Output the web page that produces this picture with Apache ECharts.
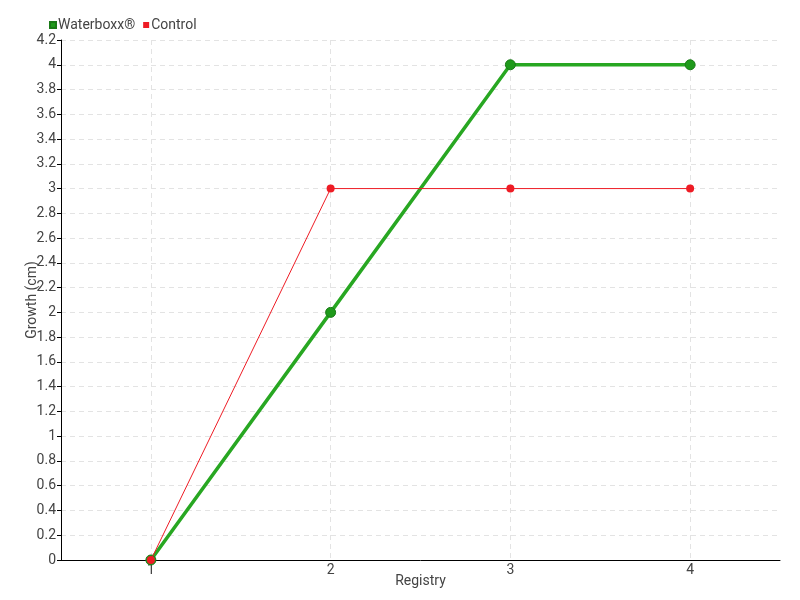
<!DOCTYPE html>
<html>
<head>
<meta charset="utf-8">
<script src="https://cdn.jsdelivr.net/npm/echarts@6/dist/echarts.min.js"></script>
<style>html,body{margin:0;padding:0;background:#fff}#c{width:800px;height:600px}</style>
</head>
<body>
<div id="c"></div>
<script>
const categories = ['1', '2', '3', '4'];
const waterboxx = [0, 2, 4, 4];
const control = [0, 3, 3, 3];
const seriesNames = ['Waterboxx®', 'Control'];

const FONT = "Roboto, sans-serif";
const chart = echarts.init(document.getElementById('c'));
chart.setOption({
  animation: false,
  textStyle: { fontFamily: FONT },
  legend: {
    left: 44, top: 13,
    itemWidth: 6, itemHeight: 6, itemGap: 8,
    icon: 'rect',
    textStyle: { fontFamily: FONT, fontSize: 14, color: '#444', padding: [0, 0, 0, -3] },
    data: seriesNames
  },
  grid: { left: 61, right: 20, top: 40, bottom: 40, containLabel: false },
  xAxis: {
    type: 'category',
    data: categories,
    boundaryGap: true,
    name: 'Registry',
    nameLocation: 'middle',
    nameGap: 14,
    nameMoveOverlap: false,
    nameTextStyle: { fontFamily: FONT, fontSize: 14, color: '#444' },
    axisLine: { lineStyle: { color: '#000', width: 1 } },
    axisTick: { alignWithLabel: true, length: 5, lineStyle: { color: '#000' } },
    axisLabel: { fontFamily: FONT, fontSize: 14, color: '#444', margin: 3 },
    splitLine: { show: true, alignWithLabel: true, lineStyle: { type: [5, 4], color: '#e3e3e3' } }
  },
  yAxis: {
    type: 'value',
    min: 0, max: 4.2, interval: 0.2,
    name: 'Growth (cm)',
    nameLocation: 'middle',
    nameGap: 22,
    nameMoveOverlap: false,
    nameTextStyle: { fontFamily: FONT, fontSize: 14, color: '#444' },
    axisLine: { show: true, lineStyle: { color: '#000', width: 1 } },
    axisTick: { show: true, length: 4, lineStyle: { color: '#000' } },
    axisLabel: {
      fontFamily: FONT, fontSize: 14, color: '#444', margin: 5,
      formatter: v => String(Math.round(v * 10) / 10)
    },
    splitLine: { show: true, lineStyle: { type: [5, 4], color: '#e3e3e3' } }
  },
  series: [
    {
      name: seriesNames[0],
      type: 'line',
      data: waterboxx,
      symbol: 'circle',
      symbolSize: 10,
      itemStyle: { color: '#1f9a1b', borderColor: '#1a7a17', borderWidth: 1 },
      lineStyle: { color: '#28a722', width: 3.5 },
      z: 2
    },
    {
      name: seriesNames[1],
      type: 'line',
      data: control,
      symbol: 'circle',
      symbolSize: 8,
      itemStyle: { color: '#ee1c25' },
      lineStyle: { color: '#ee1c25', width: 1 },
      z: 3
    }
  ]
});
</script>
</body>
</html>
